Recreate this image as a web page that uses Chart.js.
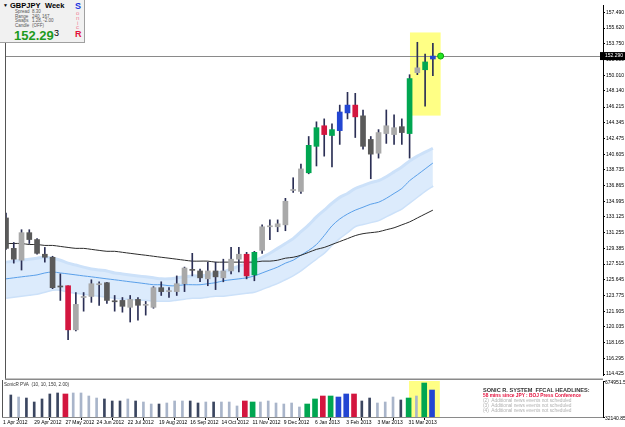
<!DOCTYPE html>
<html>
<head>
<meta charset="utf-8">
<script src="https://cdn.jsdelivr.net/npm/chart.js@4.4.1/dist/chart.umd.min.js"></script>
<style>
html, body { margin: 0; padding: 0; background: #fff; }
#wrap { position: relative; width: 625px; height: 427px; overflow: hidden; font-family: "Liberation Sans", Arial, sans-serif; }
canvas { position: absolute; left: 0; }
#main { top: 0; }
#vol { top: 380px; }
.t { position: absolute; white-space: nowrap; line-height: 1; }
#info { position: absolute; left: 0; top: 0; width: 84px; height: 42px; background: #f1f1f1; border-right: 1px solid #a0a0a0; border-bottom: 1px solid #a0a0a0; }
.sm { font-size: 4.5px; color: #555; }
.hl { font-size: 4.8px; color: #b0b0b0; left: 483px; }
</style>
</head>
<body>
<div id="wrap">
  <canvas id="main" width="625" height="380"></canvas>
  <canvas id="vol" width="625" height="47"></canvas>

  <div id="info"></div>
  <div class="t" style="left:3px;top:3px;font-size:5px;">&#9660;</div>
  <div class="t" style="left:10px;top:2px;font-size:7.5px;font-weight:bold;">GBPJPY</div>
  <div class="t" style="left:45px;top:2px;font-size:7.5px;font-weight:bold;">Week</div>
  <div class="t sm" style="left:15px;top:10px;">Spread</div><div class="t sm" style="left:32px;top:10px;">8.30</div>
  <div class="t sm" style="left:15px;top:14.5px;">Range</div><div class="t sm" style="left:32px;top:14.5px;">240, 167</div>
  <div class="t sm" style="left:15px;top:19px;">Swaps</div><div class="t sm" style="left:32px;top:19px;">1.28, -2.00</div>
  <div class="t sm" style="left:15px;top:23.5px;">Candle</div><div class="t sm" style="left:32px;top:23.5px;">(OFF)</div>
  <div class="t" style="left:14px;top:28.5px;font-size:13px;font-weight:bold;color:#1d9a1d;">152.29</div>
  <div class="t" style="left:54px;top:29px;font-size:9px;">3</div>
  <div class="t" style="left:75px;top:1.5px;font-size:9px;font-weight:bold;color:#1834e0;">S</div>
  <div class="t" style="left:76px;top:10px;font-size:6px;color:#f07e96;">o</div>
  <div class="t" style="left:76px;top:15px;font-size:6px;color:#f07e96;">n</div>
  <div class="t" style="left:77px;top:19.5px;font-size:6px;color:#f07e96;">i</div>
  <div class="t" style="left:76px;top:24px;font-size:6px;color:#f07e96;">c</div>
  <div class="t" style="left:75px;top:30px;font-size:9px;font-weight:bold;color:#e3103c;">R</div>

  <div class="t" style="left:4px;top:383px;font-size:4.6px;color:#333;">SonicR PVA&nbsp; (10, 10, 150, 2.00)</div>

  <div class="t" style="left:483px;top:388px;font-size:5.6px;font-weight:bold;color:#333;">SONIC R. SYSTEM&nbsp; FFCAL HEADLINES:</div>
  <div class="t" style="left:483px;top:394px;font-size:4.8px;font-weight:bold;color:#e3103c;">58 mins since JPY : BOJ Press Conference</div>
  <div class="t hl" style="top:399px;">(2)&nbsp; Additional news events not scheduled</div>
  <div class="t hl" style="top:404px;">(3)&nbsp; Additional news events not scheduled</div>
  <div class="t hl" style="top:409px;">(4)&nbsp; Additional news events not scheduled</div>
</div>

<script>
// weekly GBPJPY, 1 Apr 2012 .. 21 Apr 2013
const dateLabels = ['1 Apr 2012', '29 Apr 2012', '27 May 2012', '24 Jun 2012', '22 Jul 2012', '19 Aug 2012', '16 Sep 2012',
  '14 Oct 2012', '11 Nov 2012', '9 Dec 2012', '6 Jan 2013', '3 Feb 2013', '3 Mar 2013', '31 Mar 2013'];

const openP = [133.01, 129.39, 127.98, 131.26, 130.44, 128.69, 128.33, 124.83, 124.94, 119.69,
  123.54, 123.66, 125.06, 125.30, 123.07, 123.19, 122.37, 123.31, 122.61, 122.37,
  124.71, 124.24, 124.24, 125.18, 126.81, 126.70, 125.76, 126.70, 125.88, 126.70,
  128.10, 128.69, 126.23, 129.15, 131.96, 131.96, 132.19, 136.28, 136.17, 138.39,
  141.54, 143.99, 142.83, 143.41, 145.52, 146.45, 145.17, 142.36, 140.72, 143.06,
  142.94, 143.88, 143.06, 150.31, 150.66, 151.94];
const highP = [133.59, 130.09, 131.61, 131.61, 130.55, 129.50, 128.45, 126.35, 124.94, 124.13,
  124.13, 125.65, 125.41, 125.35, 123.78, 123.54, 123.78, 123.54, 123.07, 124.83,
  125.41, 124.71, 126.11, 127.16, 128.80, 126.93, 127.75, 127.75, 128.10, 129.50,
  129.50, 128.92, 129.04, 132.19, 132.78, 132.78, 135.35, 137.80, 139.44, 142.71,
  144.46, 144.81, 144.23, 146.45, 147.97, 147.85, 145.87, 142.71, 143.53, 145.87,
  145.28, 144.81, 150.07, 153.93, 152.53, 153.81];
const lowP = [129.27, 127.63, 126.81, 129.97, 128.69, 127.75, 124.59, 123.19, 118.52, 119.57,
  121.91, 122.96, 122.61, 122.84, 121.91, 121.79, 120.62, 120.85, 121.44, 122.26,
  123.78, 123.54, 123.78, 124.24, 126.11, 125.41, 124.94, 124.48, 125.41, 126.35,
  126.58, 125.76, 125.53, 128.80, 130.44, 131.37, 131.49, 136.05, 135.93, 138.27,
  139.20, 140.37, 139.09, 141.77, 144.81, 142.59, 141.19, 137.68, 140.14, 141.89,
  141.77, 141.77, 140.14, 150.07, 146.33, 149.96];
const closeP = [129.39, 128.10, 131.26, 130.44, 128.80, 128.33, 124.71, 124.79, 119.69, 122.72,
  123.58, 125.18, 125.10, 123.19, 123.03, 122.49, 123.31, 122.61, 122.65, 124.71,
  124.24, 124.28, 125.18, 127.05, 126.77, 125.88, 126.70, 126.00, 126.70, 128.10,
  128.69, 126.11, 128.92, 131.96, 132.00, 132.31, 135.00, 136.32, 138.85, 141.66,
  143.76, 142.94, 143.53, 145.63, 146.45, 145.05, 141.54, 140.61, 143.18, 143.99,
  143.76, 143.18, 149.61, 150.89, 151.59, 152.29];

// PVA class of each week: '' normal, g climax up, r climax down, b rising volume
const pva = ['', '', '', '', '', '', '', '', 'r', '',
  '', '', '', '', '', '', '', '', '', '',
  '', '', '', '', '', '', '', '', '', '',
  '', 'r', 'g', '', '', '', '', '', '', 'g',
  'g', 'r', 'g', 'b', 'b', 'r', '', '', '', '',
  '', '', 'g', '', 'g', 'b'];

const volume = [null, 425000, 389000, 371000, 300000, 354000, 443000, 461000, 443000, 461000,
  461000, 407000, 371000, 354000, 318000, 318000, 354000, 318000, 300000, 264000,
  264000, 282000, 318000, 318000, 318000, 282000, 300000, 300000, 300000, 300000,
  229000, 318000, 300000, 300000, 318000, 282000, 264000, 282000, 211000, 264000,
  354000, 407000, 407000, 389000, 443000, 443000, 318000, 371000, 282000, 300000,
  389000, 336000, 371000, 407000, 639000, 514000];

// Sonic R dragon (EMA 34 of high / close / low) and EMA 89
const dragonHigh = [127.75, 127.87, 127.98, 128.10, 128.22, 128.33, 128.22, 127.98, 127.63, 127.40,
  127.16, 126.93, 126.81, 126.70, 126.46, 126.35, 126.23, 126.11, 126.00, 125.88,
  125.76, 125.76, 125.88, 126.00, 126.11, 126.11, 126.23, 126.46, 126.58, 126.93,
  127.28, 127.52, 127.87, 128.33, 128.80, 129.39, 129.97, 130.55, 131.37, 132.19,
  133.13, 133.94, 134.76, 135.46, 135.93, 136.52, 136.87, 137.22, 137.45, 137.92,
  138.50, 139.09, 139.79, 140.37, 140.84, 141.31];
const dragonMid = [125.76, 125.88, 126.00, 126.11, 126.23, 126.46, 126.58, 126.46, 126.35, 126.23,
  126.11, 126.00, 125.88, 125.76, 125.65, 125.53, 125.41, 125.30, 125.18, 125.06,
  125.06, 124.94, 124.94, 125.06, 125.06, 125.06, 125.18, 125.30, 125.53, 125.65,
  125.76, 125.88, 126.11, 126.46, 126.81, 127.16, 127.63, 127.98, 128.57, 129.15,
  129.85, 130.91, 132.07, 132.89, 133.48, 133.94, 134.29, 134.65, 134.88, 135.35,
  135.93, 136.52, 137.45, 138.15, 138.85, 139.55];
const dragonLow = [123.54, 123.66, 123.78, 123.89, 124.01, 124.24, 124.48, 124.48, 124.24, 124.13,
  124.01, 123.89, 123.78, 123.66, 123.54, 123.43, 123.43, 123.31, 123.31, 123.19,
  123.19, 123.19, 123.31, 123.43, 123.54, 123.54, 123.66, 123.78, 123.78, 123.89,
  124.01, 124.13, 124.24, 124.59, 124.94, 125.30, 125.76, 126.23, 126.81, 127.52,
  128.22, 128.92, 129.85, 130.67, 131.37, 132.07, 132.31, 132.54, 132.78, 133.24,
  133.71, 134.18, 134.88, 135.58, 136.28, 136.87];
const ema89 = [129.97, 129.97, 129.97, 129.85, 129.85, 129.74, 129.74, 129.62, 129.50, 129.39,
  129.39, 129.27, 129.15, 129.04, 129.04, 128.92, 128.80, 128.68, 128.57, 128.45,
  128.33, 128.22, 128.10, 127.98, 127.87, 127.87, 127.87, 127.75, 127.75, 127.75,
  127.75, 127.75, 127.75, 127.87, 127.87, 127.98, 128.22, 128.33, 128.57, 128.92,
  129.27, 129.50, 129.85, 130.20, 130.55, 130.91, 131.14, 131.26, 131.37, 131.61,
  131.84, 132.19, 132.54, 133.01, 133.48, 133.94];

const priceTicks = [157.490, 155.620, 153.750, 151.880, 150.010, 148.140, 146.215, 144.345, 142.475,
  140.605, 138.735, 136.865, 134.995, 133.125, 131.255, 129.385, 127.515, 125.645, 123.775,
  121.905, 120.035, 118.165, 116.295, 114.425];
const priceRange = [114.31, 158.37];
const volumeTicks = [674951.5, 32140.85];
const lastPrice = 152.29;
const lastPriceWeek = 56;
const weekRange = [-0.13, 76.92];
const highlightWeeks = [52.05, 56.0];
const highlightPrices = [155.1, 145.2];

const FONT = 'Liberation Sans';
const idx = openP.map((_, i) => i);
const isUp = idx.map(i => closeP[i] >= openP[i]);
const pvaColor = { g: '#00a651', r: '#d3163f', b: '#2346d2' };
const bodyColors = idx.map(i => pva[i] ? pvaColor[pva[i]] : (isUp[i] ? '#a9a9a9' : '#5a5a5a'));
const volColors = idx.map(i => pva[i] ? pvaColor[pva[i]] : (isUp[i] ? '#a9b5ca' : '#3b4660'));
const pts = arr => arr.map((v, i) => ({ x: i, y: v }));

function fixWidth(s) {
  s.width = 22;
  s.paddingTop = 0;
  s.paddingBottom = 0;
}

const mainDecor = {
  id: 'mainDecor',
  beforeDatasetsDraw(chart) {
    const { ctx, chartArea: a, scales: { x, y } } = chart;
    ctx.save();
    const x0 = x.getPixelForValue(highlightWeeks[0]);
    const x1 = x.getPixelForValue(highlightWeeks[1]);
    const y0 = y.getPixelForValue(highlightPrices[0]);
    const y1 = y.getPixelForValue(highlightPrices[1]);
    ctx.fillStyle = '#ffff85';
    ctx.fillRect(x0, y0, x1 - x0, y1 - y0);
    const py = Math.round(y.getPixelForValue(lastPrice)) + 0.5;
    ctx.strokeStyle = '#8a8a8a';
    ctx.lineWidth = 1;
    ctx.beginPath();
    ctx.moveTo(a.left, py);
    ctx.lineTo(a.right, py);
    ctx.stroke();
    ctx.restore();
  },
  afterDraw(chart) {
    const { ctx, chartArea: a, scales: { y } } = chart;
    ctx.save();
    ctx.strokeStyle = '#555';
    ctx.lineWidth = 1;
    ctx.beginPath();
    ctx.moveTo(a.left + 0.5, 0);
    ctx.lineTo(a.left + 0.5, 380);
    ctx.stroke();
    ctx.fillStyle = '#8a8a8a';
    ctx.fillRect(a.left, 378.5, a.right - a.left, 1.5);
    // current price tag on the axis
    const py = y.getPixelForValue(lastPrice);
    ctx.fillStyle = '#000';
    ctx.fillRect(a.right - 3, py - 4, 625 - a.right + 3, 8);
    ctx.fillStyle = '#fff';
    ctx.font = '5px ' + FONT;
    ctx.textBaseline = 'middle';
    ctx.fillText(lastPrice.toFixed(3), a.right + 2, py);
    ctx.restore();
  }
};

new Chart(document.getElementById('main'), {
  type: 'bar',
  data: {
    datasets: [
      { type: 'line', label: 'Dragon high', data: pts(dragonHigh), borderColor: '#cce1f9', borderWidth: 3,
        backgroundColor: '#dcebfc', fill: '+1', pointRadius: 0, tension: 0.3, order: 10 },
      { type: 'line', label: 'Dragon low', data: pts(dragonLow), borderColor: '#cce1f9', borderWidth: 3,
        fill: false, pointRadius: 0, tension: 0.3, order: 10 },
      { type: 'line', label: 'EMA 34', data: pts(dragonMid), borderColor: '#5aa0ea', borderWidth: 1,
        pointRadius: 0, tension: 0.3, order: 9 },
      { type: 'line', label: 'EMA 89', data: pts(ema89), borderColor: '#2b2b2b', borderWidth: 1,
        pointRadius: 0, tension: 0.3, order: 8 },
      { label: 'Wick', data: idx.map(i => ({ x: i, y: [lowP[i], highP[i]] })), backgroundColor: '#2b2f55',
        barThickness: 1, grouped: false, order: 3 },
      { label: 'Body', data: idx.map(i => ({ x: i, y: [Math.min(openP[i], closeP[i]), Math.max(openP[i], closeP[i])] })),
        backgroundColor: bodyColors, barThickness: 5, minBarLength: 1, grouped: false, order: 2 },
      { type: 'line', label: 'Price', data: [{ x: lastPriceWeek, y: lastPrice }], showLine: false,
        pointRadius: 3, pointBackgroundColor: '#22e622', pointBorderColor: '#10a010', pointBorderWidth: 1, order: 1 }
    ]
  },
  options: {
    responsive: false,
    animation: false,
    events: [],
    layout: { padding: { left: 2, top: 1, right: 0, bottom: 2 } },
    plugins: { legend: { display: false }, tooltip: { enabled: false } },
    scales: {
      x: { type: 'linear', min: weekRange[0], max: weekRange[1], offset: false, display: false },
      y: {
        position: 'right', min: priceRange[0], max: priceRange[1],
        afterBuildTicks: s => { s.ticks = priceTicks.map(v => ({ value: v })); },
        afterFit: fixWidth,
        ticks: { font: { family: FONT, size: 5 }, color: '#000', padding: 1, callback: v => v.toFixed(3) },
        grid: { drawOnChartArea: false, tickLength: 2, color: '#000' },
        border: { display: true, color: '#000' }
      }
    }
  },
  plugins: [mainDecor]
});

const volDecor = {
  id: 'volDecor',
  beforeDatasetsDraw(chart) {
    const { ctx, chartArea: a, scales: { x } } = chart;
    ctx.save();
    const x0 = x.getPixelForValue(highlightWeeks[0]);
    const x1 = x.getPixelForValue(highlightWeeks[1]);
    ctx.fillStyle = '#ffff85';
    ctx.fillRect(x0, a.top, x1 - x0, a.bottom - a.top);
    ctx.restore();
  },
  afterDraw(chart) {
    const { ctx, chartArea: a } = chart;
    ctx.save();
    ctx.strokeStyle = '#555';
    ctx.beginPath();
    ctx.moveTo(a.left + 0.5, 0);
    ctx.lineTo(a.left + 0.5, a.bottom);
    ctx.stroke();
    ctx.restore();
  }
};

new Chart(document.getElementById('vol'), {
  type: 'bar',
  data: {
    datasets: [
      { label: 'Volume', data: idx.map(i => ({ x: i, y: pva[i] ? null : volume[i] })),
        backgroundColor: volColors, barThickness: 2, grouped: false },
      { label: 'Volume PVA', data: idx.map(i => ({ x: i, y: pva[i] ? volume[i] : null })),
        backgroundColor: volColors, barThickness: 5, grouped: false }
    ]
  },
  options: {
    responsive: false,
    animation: false,
    events: [],
    layout: { padding: { left: 2, top: 1, right: 0, bottom: 0 } },
    plugins: { legend: { display: false }, tooltip: { enabled: false } },
    scales: {
      x: {
        type: 'linear', min: weekRange[0], max: weekRange[1], offset: false,
        afterBuildTicks: s => { s.ticks = dateLabels.map((_, k) => ({ value: k * 4 })); },
        afterFit: s => { s.height = 10; s.paddingLeft = 0; s.paddingRight = 0; },
        ticks: { align: 'start', autoSkip: false, maxRotation: 0, padding: 0, color: '#000',
          font: { family: FONT, size: 5 }, callback: (v, k) => dateLabels[k] },
        grid: { drawOnChartArea: false, tickLength: 3, color: '#000' },
        border: { display: true, color: '#8a8a8a' }
      },
      y: {
        position: 'right', min: volumeTicks[1], max: volumeTicks[0],
        afterBuildTicks: s => { s.ticks = volumeTicks.map(v => ({ value: v })); },
        afterFit: fixWidth,
        ticks: { font: { family: FONT, size: 5 }, color: '#000', padding: 0, labelOffset: 2,
          callback: v => String(v) },
        grid: { drawOnChartArea: false, tickLength: 2, color: '#000' },
        border: { display: true, color: '#000' }
      }
    }
  },
  plugins: [volDecor]
});
</script>
</body>
</html>
